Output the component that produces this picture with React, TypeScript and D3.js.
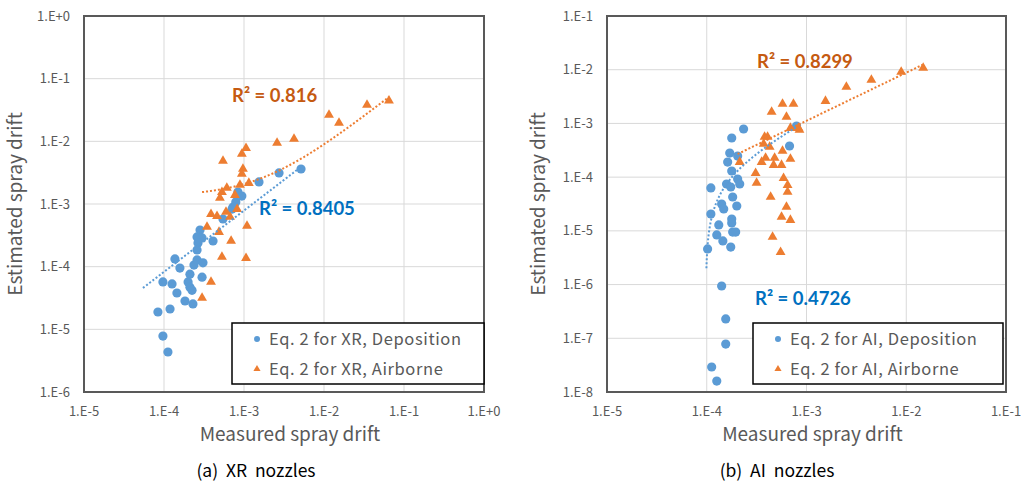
import React, { useRef, useEffect } from 'react';
import * as d3 from 'd3';

type Pt = [number, number];

// measured, estimated
const xrDeposition: Pt[] = [
  [2.82e-4, 3.85e-4], [2.59e-4, 2.98e-4], [2.99e-4, 2.87e-4], [2.66e-4, 2.39e-4], [4.1e-4, 2.57e-4],
  [2.59e-4, 1.85e-4], [1.37e-4, 1.33e-4], [2.59e-4, 1.28e-4], [3.07e-4, 1.15e-4], [2.37e-4, 1.06e-4],
  [1.58e-4, 9.5e-5], [2.11e-4, 7.6e-5], [2.99e-4, 6.8e-5], [9.7e-5, 5.7e-5], [1.26e-4, 5.3e-5],
  [2.0e-4, 5.7e-5], [2.11e-4, 4.7e-5], [2.24e-4, 4.2e-5], [1.45e-4, 3.8e-5], [1.83e-4, 2.83e-5],
  [2.3e-4, 2.54e-5], [8.4e-5, 1.89e-5], [1.19e-4, 2.11e-5], [9.7e-5, 7.8e-6], [1.12e-4, 4.35e-6],
  [5.16e-3, 3.62e-3], [2.74e-3, 3.13e-3], [1.54e-3, 2.25e-3], [8.4e-4, 1.55e-3], [9.4e-4, 1.34e-3],
  [7.9e-4, 1.08e-3], [7.3e-4, 8.95e-4], [7.1e-4, 8.3e-4], [5.46e-4, 5.76e-4],
];

const xrAirborne: Pt[] = [
  [0.0649, 0.0445], [0.0345, 0.038], [0.01155, 0.0263], [0.0154, 0.0196], [4.22e-3, 0.0109],
  [2.59e-3, 9.4e-3], [1.06e-3, 7.8e-3], [9.4e-4, 6.3e-3], [5.46e-4, 4.86e-3], [9.7e-4, 3.62e-3],
  [9.4e-4, 3.01e-3], [1.15e-3, 2.16e-3], [8.9e-4, 2.01e-3], [6.1e-4, 1.8e-3], [5.3e-4, 1.55e-3],
  [5.0e-4, 1.25e-3], [7.7e-4, 1.39e-3], [8.2e-4, 8.3e-4], [5.96e-4, 7.45e-4], [3.87e-4, 6.9e-4],
  [4.6e-4, 6.4e-4], [6.7e-4, 6.2e-4], [1.09e-3, 4.46e-4], [3.45e-4, 4.3e-4], [4.87e-4, 3.57e-4],
  [6.9e-4, 2.57e-4], [5.3e-4, 1.43e-4], [1.06e-3, 1.37e-4], [3.87e-4, 5.7e-5], [2.99e-4, 3.16e-5],
];

const aiDeposition: Pt[] = [
  [2.34e-4, 7.87e-4], [1.78e-4, 5.36e-4], [1.7e-4, 2.81e-4], [2.04e-4, 2.47e-4], [1.62e-4, 1.91e-4],
  [1.78e-4, 1.3e-4], [2.04e-4, 9.2e-5], [1.1e-4, 6.3e-5], [1.58e-4, 7.45e-5], [1.74e-4, 6.55e-5],
  [2.14e-4, 7.45e-5], [1.82e-4, 4.27e-5], [1.41e-4, 3.16e-5], [2.0e-4, 2.9e-5], [1.48e-4, 2.55e-5],
  [1.1e-4, 2.06e-5], [1.78e-4, 1.66e-5], [1.78e-4, 1.4e-5], [1.32e-4, 1.29e-5], [1.82e-4, 9.5e-6],
  [1.95e-4, 9.5e-6], [1.26e-4, 8.4e-6], [1.45e-4, 6.5e-6], [1.74e-4, 5.0e-6], [1.02e-4, 4.6e-6],
  [1.41e-4, 9.4e-7], [1.55e-4, 2.29e-7], [1.55e-4, 7.8e-8], [1.12e-4, 2.92e-8], [1.26e-4, 1.6e-8],
  [6.76e-4, 3.8e-4], [7.94e-4, 8.95e-4],
];

const aiAirborne: Pt[] = [
  [0.01479, 0.01076], [8.9e-3, 9.06e-3], [4.47e-3, 6.43e-3], [2.51e-3, 4.76e-3], [1.55e-3, 2.61e-3],
  [7.4e-4, 2.3e-3], [5.75e-4, 2.3e-3], [4.47e-4, 1.63e-3], [6.3e-4, 1.32e-3], [6.9e-4, 8.2e-4],
  [8.3e-4, 8.2e-4], [8.5e-4, 7.55e-4], [3.8e-4, 5.59e-4], [4.07e-4, 5.59e-4], [3.72e-4, 4.14e-4],
  [4.27e-4, 3.64e-4], [5.75e-4, 3.07e-4], [2.14e-4, 1.91e-4], [3.89e-4, 2.27e-4], [3.55e-4, 1.91e-4],
  [4.79e-4, 2.27e-4], [4.68e-4, 1.68e-4], [5.62e-4, 1.68e-4], [6.9e-4, 2.18e-4], [3.09e-4, 1.19e-4],
  [3.16e-4, 7.8e-5], [5.89e-4, 9.6e-5], [6.46e-4, 7.1e-5], [6.46e-4, 5.3e-5], [4.37e-4, 4.27e-5],
  [6.3e-4, 2.78e-5], [5.62e-4, 1.81e-5], [6.9e-4, 1.59e-5], [4.57e-4, 7.7e-6], [5.5e-4, 4.0e-6],
];

// excel trendlines
type Trend = { kind: 'linear' | 'power'; a: number; b: number; from: number; to: number };
const xrDepTrend: Trend = { kind: 'power', a: 0.675, b: 0.978, from: 5.46e-5, to: 5.16e-3 };
const xrAirTrend: Trend = { kind: 'linear', a: 0.766, b: 0.00132, from: 2.99e-4, to: 0.0649 };
const aiDepTrend: Trend = { kind: 'linear', a: 1.23, b: -1.2e-4, from: 9.92e-5, to: 7.94e-4 };
const aiAirTrend: Trend = { kind: 'power', a: 0.546, b: 0.896, from: 2.04e-4, to: 0.01445 };

const xrXTicks = [1e-5, 1e-4, 1e-3, 1e-2, 1e-1, 1];
const xrYTicks = [1e-6, 1e-5, 1e-4, 1e-3, 1e-2, 1e-1, 1];
const aiXTicks = [1e-5, 1e-4, 1e-3, 1e-2, 1e-1];
const aiYTicks = [1e-8, 1e-7, 1e-6, 1e-5, 1e-4, 1e-3, 1e-2, 1e-1];

const BLUE = '#5B9BD5';
const ORANGE = '#ED7D31';
const FONT = '"Noto Sans CJK KR", "Noto Sans", sans-serif';

const fmt = (v: number) => {
  const e = Math.round(Math.log10(v));
  return e >= 0 ? `1.E+${e}` : `1.E${e}`;
};

const trendFn = (t: Trend) => (x: number) => t.kind === 'linear' ? t.a * x + t.b : t.a * Math.pow(x, t.b);

type PanelProps = {
  left: number; right: number; top: number; bottom: number;
  xTicks: number[]; yTicks: number[];
  dep: Pt[]; air: Pt[]; depTrend: Trend; airTrend: Trend;
  depR2: string; airR2: string;
  depR2Pos: [number, number]; airR2Pos: [number, number];
  legendLeft: number; legendRight: number;
  nozzle: string; caption: string; captionX: number;
};

const Panel = (p: PanelProps) => {
  const gRef = useRef<SVGGElement>(null);

  useEffect(() => {
    const g = d3.select(gRef.current);
    g.selectAll('*').remove();

    const x = d3.scaleLog().domain(d3.extent(p.xTicks) as [number, number]).range([p.left, p.right]);
    const y = d3.scaleLog().domain(d3.extent(p.yTicks) as [number, number]).range([p.bottom, p.top]);

    // grid
    g.append('g').selectAll('line').data(p.xTicks).join('line')
      .attr('x1', d => x(d)).attr('x2', d => x(d))
      .attr('y1', p.top).attr('y2', p.bottom)
      .attr('stroke', '#D9D9D9').attr('stroke-width', 1);
    g.append('g').selectAll('line').data(p.yTicks).join('line')
      .attr('y1', d => y(d)).attr('y2', d => y(d))
      .attr('x1', p.left).attr('x2', p.right)
      .attr('stroke', '#D9D9D9').attr('stroke-width', 1);

    // tick labels
    g.append('g').selectAll('text').data(p.xTicks).join('text')
      .attr('x', d => x(d)).attr('y', p.bottom + 23.5)
      .attr('text-anchor', 'middle').attr('font-size', 13).attr('font-family', FONT)
      .attr('fill', '#595959').text(fmt);
    g.append('g').selectAll('text').data(p.yTicks).join('text')
      .attr('x', p.left - 14).attr('y', d => y(d) + 4.5)
      .attr('text-anchor', 'end').attr('font-size', 13).attr('font-family', FONT)
      .attr('fill', '#595959').text(fmt);

    // markers
    g.append('g').selectAll('circle').data(p.dep).join('circle')
      .attr('cx', d => x(d[0])).attr('cy', d => y(d[1])).attr('r', 4.6)
      .attr('fill', BLUE);
    const tri = d3.symbol().type(d3.symbolTriangle).size(42);
    g.append('g').selectAll('path').data(p.air).join('path')
      .attr('transform', d => `translate(${x(d[0])},${y(d[1])})`)
      .attr('d', tri()).attr('fill', ORANGE);

    // trendlines
    const drawTrend = (t: Trend, color: string) => {
      const f = trendFn(t);
      const lx = d3.range(0, 401).map(i => Math.pow(10, Math.log10(t.from) + (Math.log10(t.to) - Math.log10(t.from)) * i / 400));
      const pts = lx.map(v => [v, f(v)] as Pt).filter(d => d[1] > 0);
      const line = d3.line<Pt>().x(d => x(d[0])).y(d => y(d[1]));
      g.append('path').datum(pts).attr('d', line)
        .attr('fill', 'none').attr('stroke', color).attr('stroke-width', 2)
        .attr('stroke-dasharray', '2,2');
    };
    drawTrend(p.depTrend, BLUE);
    drawTrend(p.airTrend, ORANGE);

    // frame
    g.append('rect').attr('x', p.left).attr('y', p.top)
      .attr('width', p.right - p.left).attr('height', p.bottom - p.top)
      .attr('fill', 'none').attr('stroke', '#595959').attr('stroke-width', 2);

    // R2 labels
    g.append('text').attr('x', p.airR2Pos[0]).attr('y', p.airR2Pos[1])
      .attr('font-family', 'Lato, sans-serif').attr('font-weight', 'bold').attr('font-size', 18.5)
      .attr('fill', '#C55A11').text(p.airR2);
    g.append('text').attr('x', p.depR2Pos[0]).attr('y', p.depR2Pos[1])
      .attr('font-family', 'Lato, sans-serif').attr('font-weight', 'bold').attr('font-size', 18.5)
      .attr('fill', '#0070C0').text(p.depR2);

    // legend
    const lg = g.append('g');
    lg.append('rect').attr('x', p.legendLeft).attr('y', 323)
      .attr('width', p.legendRight - p.legendLeft).attr('height', 61)
      .attr('fill', '#fff').attr('stroke', '#000').attr('stroke-width', 1.5);
    lg.append('circle').attr('cx', p.legendLeft + 25).attr('cy', 339).attr('r', 3).attr('fill', BLUE);
    lg.append('path').attr('transform', `translate(${p.legendLeft + 25},${369})`)
      .attr('d', d3.symbol().type(d3.symbolTriangle).size(22)()).attr('fill', ORANGE);
    lg.append('text').attr('x', p.legendLeft + 37).attr('y', 345)
      .attr('font-family', FONT).attr('font-size', 16.5).attr('letter-spacing', 0.6).attr('fill', '#595959')
      .text(`Eq. 2 for ${p.nozzle}, Deposition`);
    lg.append('text').attr('x', p.legendLeft + 37).attr('y', 375)
      .attr('font-family', FONT).attr('font-size', 16.5).attr('letter-spacing', 0.6).attr('fill', '#595959')
      .text(`Eq. 2 for ${p.nozzle}, Airborne`);

    // axis titles
    g.append('text').attr('x', (p.left + p.right) / 2 + 6).attr('y', 441)
      .attr('text-anchor', 'middle').attr('font-family', FONT).attr('font-size', 19)
      .attr('fill', '#595959').text('Measured spray drift');
    g.append('text')
      .attr('transform', `translate(${p.left - 62},${(p.top + p.bottom) / 2}) rotate(-90)`)
      .attr('text-anchor', 'middle').attr('font-family', FONT).attr('font-size', 19)
      .attr('fill', '#595959').text('Estimated spray drift');

    // caption
    g.append('text').attr('x', p.captionX).attr('y', 477)
      .attr('text-anchor', 'middle').attr('font-family', FONT).attr('font-size', 17.5)
      .attr('fill', '#000').style('white-space', 'pre').text(p.caption);
  }, []);

  return <g ref={gRef} />;
};

const App = () => (
  <svg width={1025} height={485} style={{ position: 'absolute', left: 0, top: 0, background: '#fff' }}>
    <Panel left={84} right={484} top={16} bottom={392}
      xTicks={xrXTicks} yTicks={xrYTicks}
      dep={xrDeposition} air={xrAirborne} depTrend={xrDepTrend} airTrend={xrAirTrend}
      depR2="R² = 0.8405" airR2="R² = 0.816"
      depR2Pos={[259, 215]} airR2Pos={[232, 102]}
      legendLeft={232} legendRight={484}
      nozzle="XR" caption="(a)  XR  nozzles" captionX={256} />
    <Panel left={607} right={1006} top={16} bottom={392}
      xTicks={aiXTicks} yTicks={aiYTicks}
      dep={aiDeposition} air={aiAirborne} depTrend={aiDepTrend} airTrend={aiAirTrend}
      depR2="R² = 0.4726" airR2="R² = 0.8299"
      depR2Pos={[755, 305]} airR2Pos={[757, 68]}
      legendLeft={753} legendRight={1003}
      nozzle="AI" caption="(b)  AI  nozzles" captionX={777} />
  </svg>
);

export default App;
